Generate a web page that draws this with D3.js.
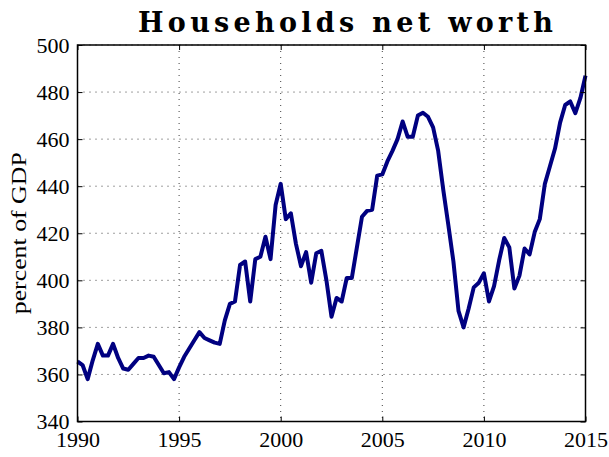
<!DOCTYPE html>
<html><head><meta charset="utf-8">
<script src="https://cdn.jsdelivr.net/npm/d3@7"></script>
<style>html,body{margin:0;padding:0;background:#fff;}</style>
</head><body>
<svg id="chart" width="609" height="457"></svg>
<script>
const title = "Households net worth";
const yLabel = "percent of GDP";
const startYear = 1990;
const quarterStep = 0.25;
const values = [
  365.5, 364, 358, 366,
  373, 368, 368, 373,
  367, 362.5, 362, 364.5,
  367, 367, 368, 367.5,
  364, 360.5, 361, 358,
  363, 367.5, 371, 374.5,
  378, 375.5, 374.5, 373.5,
  373, 383, 390, 391,
  406.5, 408, 391, 409,
  410, 418.5, 409, 432,
  441, 426, 428.5, 415.5,
  406, 412, 399, 411.5,
  412.5, 400, 384.5, 392.5,
  391, 401, 401, 414,
  427, 429.5, 430, 444.5,
  445, 450.5, 455, 460,
  467.5, 461, 461, 470,
  471.2, 469.5, 465, 455,
  438.5, 423.5, 408, 387,
  380, 388, 397, 399,
  403, 391, 397.5, 408.5,
  418, 414, 396.5, 402,
  413.5, 411, 420.5, 426,
  441, 448.5, 456, 467,
  474.5, 476, 471, 477.5,
  487
];
const xTicks = [1990, 1995, 2000, 2005, 2010, 2015];
const yTicks = [340, 360, 380, 400, 420, 440, 460, 480, 500];

const data = values.map((v, i) => ({t: startYear + i * quarterStep, v}));

const svg = d3.select("#chart");
const L = 77.5, R = 585.5, T = 45, B = 421.5;
const x = d3.scaleLinear().domain([1990, 2015]).range([L, R]);
const y = d3.scaleLinear().domain([340, 500]).range([B, T]);
const serif = "'Liberation Serif', 'Times New Roman', serif";

// grid
const grid = svg.append("g");
grid.selectAll("line.vx").data(xTicks).enter().append("line")
  .attr("x1", d => x(d)).attr("x2", d => x(d)).attr("y1", T).attr("y2", B)
  .attr("stroke", "#000").attr("stroke-width", 1).attr("stroke-dasharray", "1,5").attr("opacity", 0.75);
grid.selectAll("line.hy").data(yTicks).enter().append("line")
  .attr("x1", L).attr("x2", R).attr("y1", d => y(d)).attr("y2", d => y(d))
  .attr("stroke", "#000").attr("stroke-width", 1).attr("stroke-dasharray", "1,5").attr("opacity", 0.75);

// line
const line = d3.line().x(d => x(d.t)).y(d => y(d.v));
svg.append("path").datum(data).attr("d", line)
  .attr("fill", "none").attr("stroke", "#000080").attr("stroke-width", 4)
  .attr("stroke-linejoin", "round").attr("stroke-linecap", "butt");

// axes with inward ticks
const axB = svg.append("g").attr("transform", `translate(0,${B})`)
  .call(d3.axisBottom(x).tickValues(xTicks).tickFormat(d3.format("d")).tickSizeInner(-5).tickSizeOuter(0).tickPadding(10));
const axT = svg.append("g").attr("transform", `translate(0,${T})`)
  .call(d3.axisTop(x).tickValues(xTicks).tickFormat("").tickSizeInner(-5).tickSizeOuter(0));
const axL = svg.append("g").attr("transform", `translate(${L},0)`)
  .call(d3.axisLeft(y).tickValues(yTicks).tickFormat(d3.format("d")).tickSizeInner(-5).tickSizeOuter(0).tickPadding(8));
const axR = svg.append("g").attr("transform", `translate(${R},0)`)
  .call(d3.axisRight(y).tickValues(yTicks).tickFormat("").tickSizeInner(-5).tickSizeOuter(0));
[axB, axT, axL, axR].forEach(g => {
  g.select(".domain").remove();
  g.selectAll(".tick line").attr("stroke", "#000").attr("stroke-width", 1);
  g.selectAll("text").attr("font-family", serif).attr("font-size", 22).attr("fill", "#000");
});
axB.selectAll("text").attr("dy", "0.71em");
axL.selectAll("text").attr("dy", "0.32em");

// frame
svg.append("rect").attr("x", L).attr("y", T).attr("width", R - L).attr("height", B - T)
  .attr("fill", "none").attr("stroke", "#000").attr("stroke-width", 1.5);

// y label
svg.append("text")
  .attr("transform", `translate(26,${(T + B) / 2}) rotate(-90)`)
  .attr("text-anchor", "middle")
  .attr("font-family", serif).attr("font-size", 22)
  .attr("textLength", 162).attr("lengthAdjust", "spacingAndGlyphs")
  .text(yLabel);

// title
svg.append("text")
  .attr("x", 138).attr("y", 32)
  .attr("font-family", "'DejaVu Serif', serif").attr("font-size", 27).attr("font-weight", "bold")
  .attr("textLength", 415).attr("lengthAdjust", "spacing")
  .text(title);
</script>
</body></html>
